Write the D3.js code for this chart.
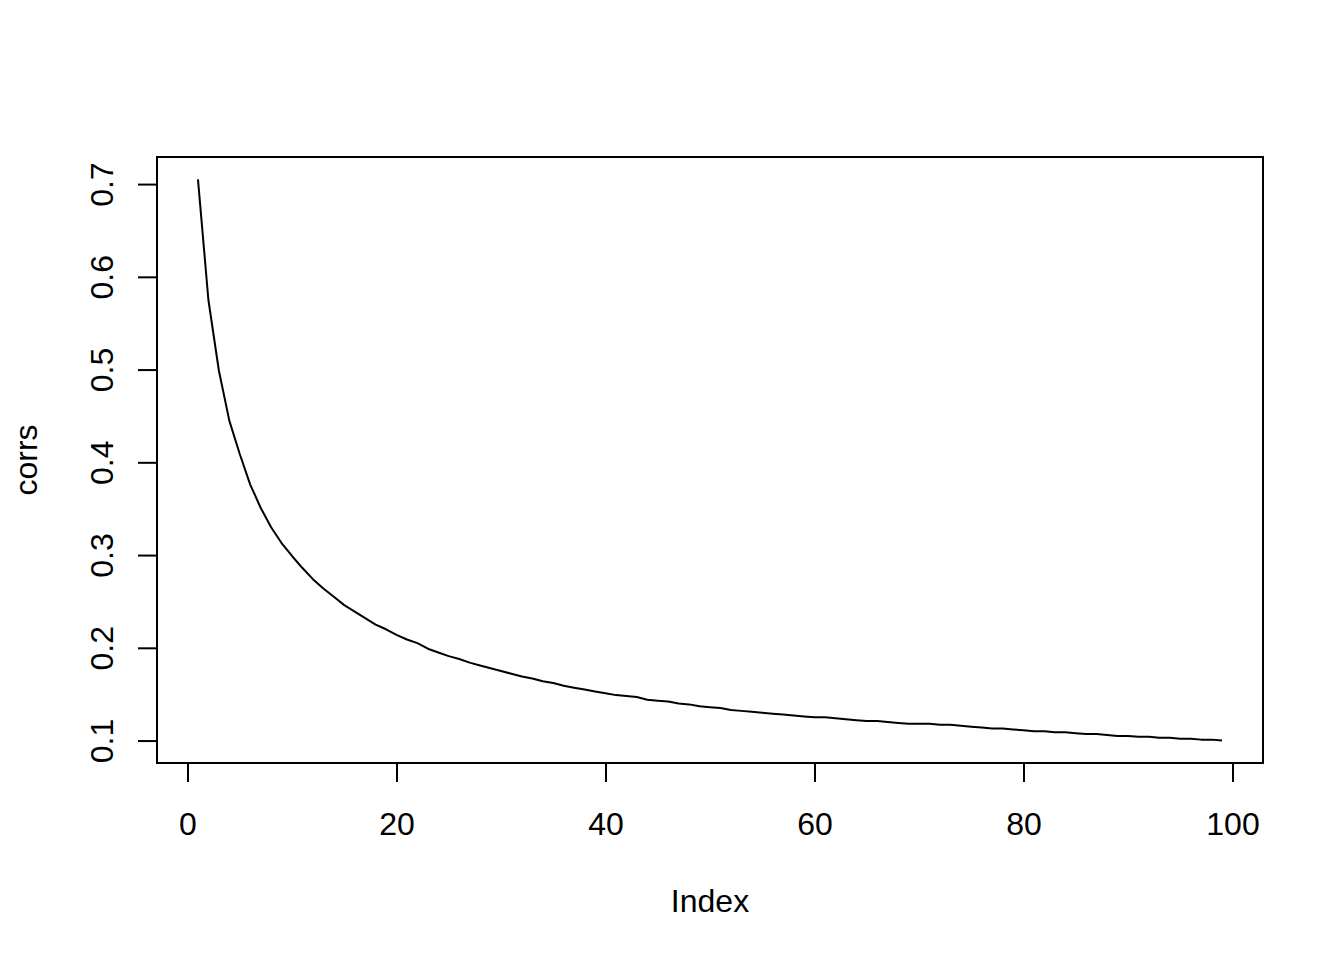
<!DOCTYPE html>
<html>
<head>
<meta charset="utf-8">
<script src="https://cdn.jsdelivr.net/npm/d3@7"></script>
<style>
  html, body { margin: 0; padding: 0; background: #ffffff; }
  svg { display: block; }
  text { font-family: "Liberation Sans", Arial, sans-serif; fill: #000; }
</style>
</head>
<body>
<svg id="chart" width="1344" height="960"></svg>
<script>
// ---- data ----
const corrs = [
  0.705, 0.575, 0.499, 0.445, 0.409, 0.376, 0.351, 0.330, 0.313, 0.299,
  0.286, 0.274, 0.264, 0.255, 0.246, 0.239, 0.232, 0.225, 0.220, 0.214,
  0.209, 0.205, 0.199, 0.195, 0.191, 0.188, 0.184, 0.181, 0.178, 0.175,
  0.172, 0.169, 0.167, 0.164, 0.162, 0.159, 0.157, 0.155, 0.153, 0.151,
  0.149, 0.148, 0.147, 0.144, 0.143, 0.142, 0.140, 0.139, 0.137, 0.136,
  0.135, 0.133, 0.132, 0.131, 0.130, 0.129, 0.128, 0.127, 0.126, 0.125,
  0.125, 0.124, 0.123, 0.122, 0.121, 0.121, 0.120, 0.119, 0.118, 0.118,
  0.118, 0.117, 0.117, 0.116, 0.115, 0.114, 0.113, 0.113, 0.112, 0.111,
  0.110, 0.110, 0.109, 0.109, 0.108, 0.107, 0.107, 0.106, 0.105, 0.105,
  0.104, 0.104, 0.103, 0.103, 0.102, 0.102, 0.101, 0.101, 0.100
];
const index = corrs.map((_, i) => i + 1);
const xTicks = [0, 20, 40, 60, 80, 100];
const yTicks = [0.1, 0.2, 0.3, 0.4, 0.5, 0.6, 0.7];
const xLabel = "Index";
const yLabel = "corrs";

// ---- layout ----
const box = { left: 157, right: 1263, top: 157, bottom: 763 };
const lw = 2;

function padded(ext) {
  const r = ext[1] - ext[0];
  return [ext[0] - 0.04 * r, ext[1] + 0.04 * r];
}

const x = d3.scaleLinear().domain(padded(d3.extent(index))).range([box.left, box.right]);
const y = d3.scaleLinear().domain(padded(d3.extent(corrs))).range([box.bottom, box.top]);

const svg = d3.select("#chart");
svg.append("rect").attr("width", 1344).attr("height", 960).attr("fill", "#fff");

// line
const line = d3.line().x((d, i) => x(index[i])).y(d => y(d));
svg.append("path")
  .datum(corrs)
  .attr("d", line)
  .attr("fill", "none")
  .attr("stroke", "#000")
  .attr("stroke-width", lw)
  .attr("stroke-linejoin", "round");

// box
svg.append("rect")
  .attr("x", box.left).attr("y", box.top)
  .attr("width", box.right - box.left).attr("height", box.bottom - box.top)
  .attr("fill", "none").attr("stroke", "#000").attr("stroke-width", lw);

// x axis
const xAxis = d3.axisBottom(x).tickValues(xTicks).tickSize(19).tickSizeOuter(0).tickFormat(d3.format("d"));
const gx = svg.append("g").attr("transform", `translate(0,${box.bottom})`).call(xAxis);
gx.select(".domain").attr("d", `M${x(xTicks[0])},0H${x(xTicks[xTicks.length-1])}`)
  .attr("stroke", "#000").attr("stroke-width", lw);
gx.selectAll(".tick line").attr("stroke", "#000").attr("stroke-width", lw);
gx.selectAll(".tick text")
  .attr("y", 72).attr("dy", null)
  .attr("font-size", 32)
  .attr("font-family", "Liberation Sans, Arial, sans-serif")
  .attr("fill", "#000");

// y axis
const yAxis = d3.axisLeft(y).tickValues(yTicks).tickSize(19).tickSizeOuter(0).tickFormat(d3.format(".1f"));
const gy = svg.append("g").attr("transform", `translate(${box.left},0)`).call(yAxis);
gy.select(".domain").attr("d", `M0,${y(yTicks[0])}V${y(yTicks[yTicks.length-1])}`)
  .attr("stroke", "#000").attr("stroke-width", lw);
gy.selectAll(".tick line").attr("stroke", "#000").attr("stroke-width", lw);
gy.selectAll(".tick text")
  .attr("x", null).attr("dy", null)
  .attr("transform", "translate(-44,0) rotate(-90)")
  .attr("text-anchor", "middle")
  .attr("font-size", 32)
  .attr("font-family", "Liberation Sans, Arial, sans-serif")
  .attr("fill", "#000");

// axis titles
svg.append("text")
  .attr("x", (box.left + box.right) / 2).attr("y", 912)
  .attr("text-anchor", "middle").attr("font-size", 32)
  .text(xLabel);
svg.append("text")
  .attr("transform", `translate(37,${(box.top + box.bottom) / 2}) rotate(-90)`)
  .attr("text-anchor", "middle").attr("font-size", 32)
  .text(yLabel);
</script>
</body>
</html>
